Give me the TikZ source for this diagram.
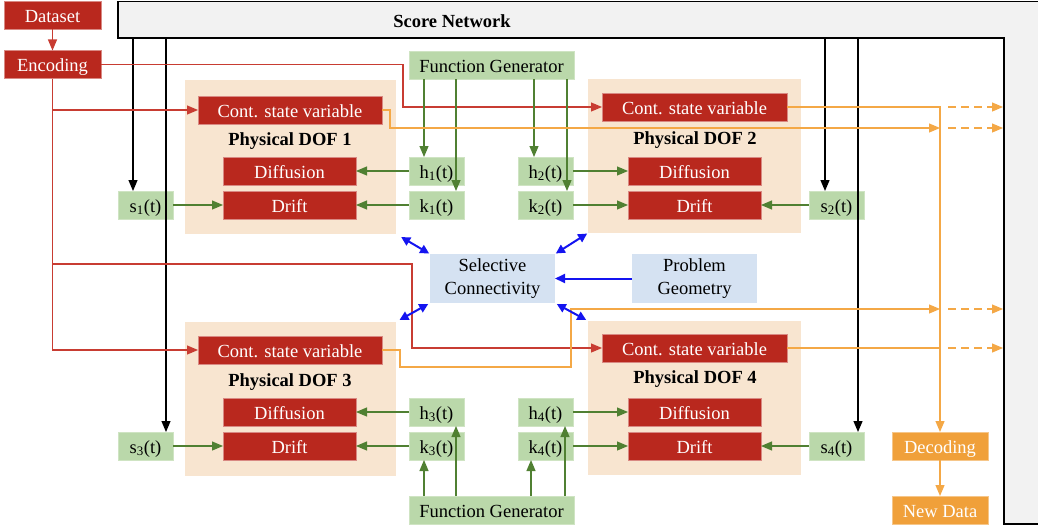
\documentclass[tikz,border=0pt]{standalone}
\usepackage{fontspec}
\setmainfont{Liberation Serif}
\usetikzlibrary{arrows.meta,calc}
\definecolor{cred}{RGB}{185,40,30}
\definecolor{credl}{RGB}{200,60,50}
\definecolor{cpeach}{RGB}{248,229,208}
\definecolor{cgreen}{RGB}{186,216,170}
\definecolor{cgline}{RGB}{80,128,50}
\definecolor{cblue}{RGB}{213,226,242}
\definecolor{cbline}{RGB}{20,20,240}
\definecolor{corange}{RGB}{240,160,58}
\definecolor{coline}{RGB}{244,168,70}
\definecolor{cgray}{RGB}{242,242,242}
\tikzset{
  every node/.style={font=\fontsize{18.5}{23}\selectfont, inner sep=0pt, outer sep=0pt},
  boxtext/.style={text height=14.3pt, text depth=0pt},
  redbox/.style={boxtext, fill=cred, draw=cred!55!white, line width=0.6pt, text=white, minimum height=28pt},
  greenbox/.style={boxtext, fill=cgreen, draw=cgreen!70!white, line width=0.6pt, text=black, minimum height=28pt, minimum width=55pt},
  bluebox/.style={fill=cblue, text=black, minimum width=125pt, minimum height=49pt, align=center},
  orbox/.style={boxtext, fill=corange, draw=corange!60!white, line width=0.6pt, text=white, minimum width=96pt, minimum height=28pt},
  dofbox/.style={fill=cpeach, minimum width=211pt, minimum height=154pt},
  doflabel/.style={font=\fontsize{18.5}{23}\selectfont\bfseries},
  redln/.style={draw=credl, line width=1.2pt},
  grarr/.style={draw=cgline, line width=1.2pt, -{Triangle[length=11pt,width=9pt]}},
  blkarr/.style={draw=black, line width=1.2pt, -{Triangle[length=11pt,width=9pt]}},
  orln/.style={draw=coline, line width=1.2pt},
  orarr/.style={draw=coline, line width=1.2pt, -{Triangle[length=11pt,width=9pt]}},
  ordash/.style={draw=coline, line width=1.2pt, dash pattern=on 8pt off 5pt, -{Triangle[length=11pt,width=9pt]}},
  blarr/.style={draw=cbline, line width=2pt, {Triangle[length=9pt,width=9pt]}-{Triangle[length=9pt,width=9pt]}},
  blarrone/.style={draw=cbline, line width=2pt, -{Triangle[length=10pt,width=9pt]}},
}
\begin{document}
\begin{tikzpicture}[x=1pt,y=-1pt]
\useasboundingbox (0,0) rectangle (1038,527);
\begin{scope}
\clip (0,0) rectangle (1038,527);
% Score network frame
\path[fill=cgray, draw=black, line width=1.3pt] (118,1.5) -- (1060,1.5) -- (1060,524) -- (1004,524) -- (1004,38) -- (118,38) -- cycle;
\end{scope}
\node[font=\fontsize{18.5}{23}\selectfont\bfseries] (sn) at (452,21) {Score Network};
\coordinate (b1) at (133,38);
\coordinate (b2) at (166,38);
\coordinate (b3) at (825,38);
\coordinate (b4) at (858,38);

% Left inputs
\node[redbox, minimum width=97pt] (ds) at (52.5,15) {Dataset};
\node[redbox, minimum width=97pt] (enc) at (52.5,64.5) {Encoding};

% DOF containers
\node[dofbox] (dof1) at (290.5,157) {};
\node[dofbox, minimum width=213pt] (dof2) at (694.5,156) {};
\node[dofbox] (dof3) at (290.5,399) {};
\node[dofbox, minimum width=213pt] (dof4) at (694.5,398) {};

% DOF 1
\node[redbox, minimum width=184pt] (csv1) at (290,110) {Cont. state variable};
\node[doflabel] (p1) at (290,141) {Physical DOF 1};
\node[redbox, minimum width=133pt] (dif1) at (289.5,171) {Diffusion};
\node[redbox, minimum width=133pt] (dri1) at (289.5,205) {Drift};
% DOF 2
\node[redbox, minimum width=185pt] (csv2) at (694.5,107) {Cont. state variable};
\node[doflabel] (p2) at (695,140) {Physical DOF 2};
\node[redbox, minimum width=133pt] (dif2) at (694.5,171) {Diffusion};
\node[redbox, minimum width=133pt] (dri2) at (694.5,205) {Drift};
% DOF 3
\node[redbox, minimum width=184pt] (csv3) at (290,350) {Cont. state variable};
\node[doflabel] (p3) at (290,382) {Physical DOF 3};
\node[redbox, minimum width=133pt] (dif3) at (289.5,412) {Diffusion};
\node[redbox, minimum width=133pt] (dri3) at (289.5,446) {Drift};
% DOF 4
\node[redbox, minimum width=185pt] (csv4) at (694.5,348) {Cont. state variable};
\node[doflabel] (p4) at (695,379) {Physical DOF 4};
\node[redbox, minimum width=133pt] (dif4) at (694.5,412) {Diffusion};
\node[redbox, minimum width=133pt] (dri4) at (694.5,446) {Drift};

% green boxes
\node[greenbox, minimum width=165pt] (fgt) at (491.5,65) {Function Generator};
\node[greenbox, minimum width=165pt] (fgb) at (491.5,510) {Function Generator};
\node[greenbox] (s1) at (145.5,205) {s\textsubscript{1}(t)};
\node[greenbox] (s2) at (836.5,205) {s\textsubscript{2}(t)};
\node[greenbox] (s3) at (145.5,446) {s\textsubscript{3}(t)};
\node[greenbox] (s4) at (836.5,446) {s\textsubscript{4}(t)};
\node[greenbox] (h1) at (436.5,171) {h\textsubscript{1}(t)};
\node[greenbox] (k1) at (436.5,205) {k\textsubscript{1}(t)};
\node[greenbox] (h2) at (545.5,171) {h\textsubscript{2}(t)};
\node[greenbox] (k2) at (545.5,205) {k\textsubscript{2}(t)};
\node[greenbox] (h3) at (436.5,412) {h\textsubscript{3}(t)};
\node[greenbox] (k3) at (436.5,446) {k\textsubscript{3}(t)};
\node[greenbox] (h4) at (545.5,412) {h\textsubscript{4}(t)};
\node[greenbox] (k4) at (545.5,446) {k\textsubscript{4}(t)};

% blue boxes
\node[bluebox] (sc) at (492.5,278.5) {Selective\\Connectivity};
\node[bluebox] (pg) at (694.5,278.5) {Problem\\Geometry};

% orange boxes
\node[orbox] (dec) at (940,446) {Decoding};
\node[orbox] (nd) at (940,510) {New Data};

% black lines from score network
\draw[blkarr] (b1) -- (b1 |- s1.north);
\draw[blkarr] (b2) -- (b2 |- s3.north);
\draw[blkarr] (b3) -- (b3 |- s2.north);
\draw[blkarr] (b4) -- (b4 |- s4.north);

% red lines
\coordinate (r1) at (403,64.5);
\coordinate (r2) at (412,264);
\draw[redln, -{Triangle[length=11pt,width=9pt]}] (ds.south) -- (enc.north);
\draw[redln, -{Triangle[length=11pt,width=9pt]}] (enc.east) -- (r1) |- (csv2.west);
\draw[redln, -{Triangle[length=11pt,width=9pt]}] (enc.south) |- (csv3.west);
\draw[redln, -{Triangle[length=11pt,width=9pt]}] (enc.south |- csv1.west) -- (csv1.west);
\draw[redln, -{Triangle[length=11pt,width=9pt]}] (enc.south |- r2) -- (r2) |- (csv4.west);

% green lines
\coordinate (g1) at (424,79);
\coordinate (g2) at (456,79);
\coordinate (g3) at (534,79);
\coordinate (g4) at (567,79);
\coordinate (g5) at (424,496);
\coordinate (g6) at (456,496);
\coordinate (g7) at (531,496);
\coordinate (g8) at (565,496);
\draw[grarr] (g1) -- (g1 |- h1.north);
\draw[grarr] (g2) -- (g2 |- k1.north);
\draw[grarr] (g3) -- (g3 |- h2.north);
\draw[grarr] (g4) -- (g4 |- k2.north);
\draw[grarr] (g5) -- (g5 |- k3.south);
\draw[grarr] (g6) -- (g6 |- h3.south);
\draw[grarr] (g7) -- (g7 |- k4.south);
\draw[grarr] (g8) -- (g8 |- h4.south);
\draw[grarr] (h1.west) -- (dif1.east);
\draw[grarr] (k1.west) -- (dri1.east);
\draw[grarr] (s1.east) -- (dri1.west);
\draw[grarr] (h2.east) -- (dif2.west);
\draw[grarr] (k2.east) -- (dri2.west);
\draw[grarr] (s2.west) -- (dri2.east);
\draw[grarr] (h3.west) -- (dif3.east);
\draw[grarr] (k3.west) -- (dri3.east);
\draw[grarr] (s3.east) -- (dri3.west);
\draw[grarr] (h4.east) -- (dif4.west);
\draw[grarr] (k4.east) -- (dri4.west);
\draw[grarr] (s4.west) -- (dri4.east);

% orange lines
\coordinate (o1) at (390,128);
\coordinate (o2) at (400,367);
\coordinate (o3) at (571,309);
\coordinate (e1) at (1003,107);
\coordinate (e2) at (1003,128);
\coordinate (e3) at (1003,309);
\coordinate (e4) at (1003,348);
\draw[orarr] (csv2.east) -| (dec.north);
\draw[orarr] (csv1.east) -| (o1) -- (dec.north |- o1);
\draw[orarr] (csv3.east) -| (o2) -| (o3) -- (dec.north |- o3);
\draw[orln] (csv4.east) -- (dec.north |- csv4.east);
\draw[ordash] ([xshift=8pt]dec.north |- e1) -- (e1);
\draw[ordash] ([xshift=8pt]dec.north |- e2) -- (e2);
\draw[ordash] ([xshift=8pt]dec.north |- e3) -- (e3);
\draw[ordash] ([xshift=8pt]dec.north |- e4) -- (e4);
\draw[orarr] (dec.south) -- (nd.north);

% blue arrows
\draw[blarrone] (pg.west) -- (sc.east);
\draw[blarr, shorten <=1pt, shorten >=6pt] (sc.north west) -- (dof1.south east);
\draw[blarr, shorten <=1pt, shorten >=1pt] (sc.north east) -- (dof2.south west);
\draw[blarr, shorten <=2pt, shorten >=4pt] (sc.south west) -- (dof3.north east);
\draw[blarr, shorten <=2pt, shorten >=2pt] (sc.south east) -- (dof4.north west);
\end{tikzpicture}
\end{document}
